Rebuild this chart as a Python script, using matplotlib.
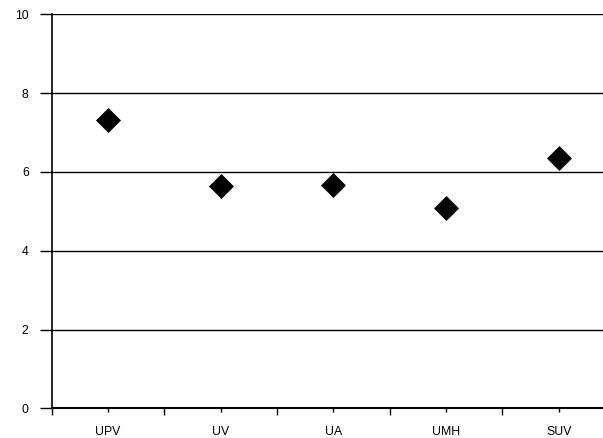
import matplotlib
matplotlib.use('Agg')
import matplotlib.pyplot as plt
from matplotlib.ticker import FixedLocator, NullFormatter

plt.rcParams['font.family'] = ['Liberation Sans', 'DejaVu Sans']

universities = ['UPV', 'UV', 'UA', 'UMH', 'SUV']
scores = [7.32, 5.64, 5.68, 5.09, 6.35]
y_ticks = [0, 2, 4, 6, 8, 10]

fig = plt.figure(figsize=(6.03, 4.38), dpi=100)
# plot area runs off the right edge of the picture, like the original
ax = fig.add_axes([51.7 / 603, (438 - 408.3) / 438, (615 - 51.7) / 603, (408.3 - 14.3) / 438])

x = list(range(len(universities)))

# horizontal gridlines
for yv in y_ticks[1:]:
    ax.axhline(yv, color='black', linewidth=1.0, zorder=1)

# white box behind each marker cuts the gridlines
ax.plot(x, scores, linestyle='none', marker='s', markersize=17.3,
        markerfacecolor='white', markeredgecolor='none', zorder=2)
ax.plot(x, scores, linestyle='none', marker='D', markersize=12.5,
        markerfacecolor='black', markeredgecolor='black', markeredgewidth=0.5, zorder=3)

ax.set_xlim(-0.5, len(universities) - 0.5)
ax.set_ylim(0, 10)

ax.set_yticks(y_ticks)
ax.set_yticklabels([str(v) for v in y_ticks])

ax.xaxis.set_major_locator(FixedLocator([i - 0.5 for i in range(len(universities) + 1)]))
ax.xaxis.set_major_formatter(NullFormatter())
ax.xaxis.set_minor_locator(FixedLocator(x))
ax.set_xticklabels(universities, minor=True)

ax.tick_params(axis='y', direction='out', length=8.6, width=1.0, pad=8, labelsize=8.8, colors='black')
ax.tick_params(axis='x', which='major', direction='out', length=5, width=1.0)
ax.tick_params(axis='x', which='minor', direction='out', length=3, width=1.0, pad=10, labelsize=8.8)

for side in ['top', 'right']:
    ax.spines[side].set_visible(False)
ax.spines['left'].set_linewidth(1.2)
ax.spines['bottom'].set_linewidth(1.5)

plt.savefig('out.png', dpi=100)
